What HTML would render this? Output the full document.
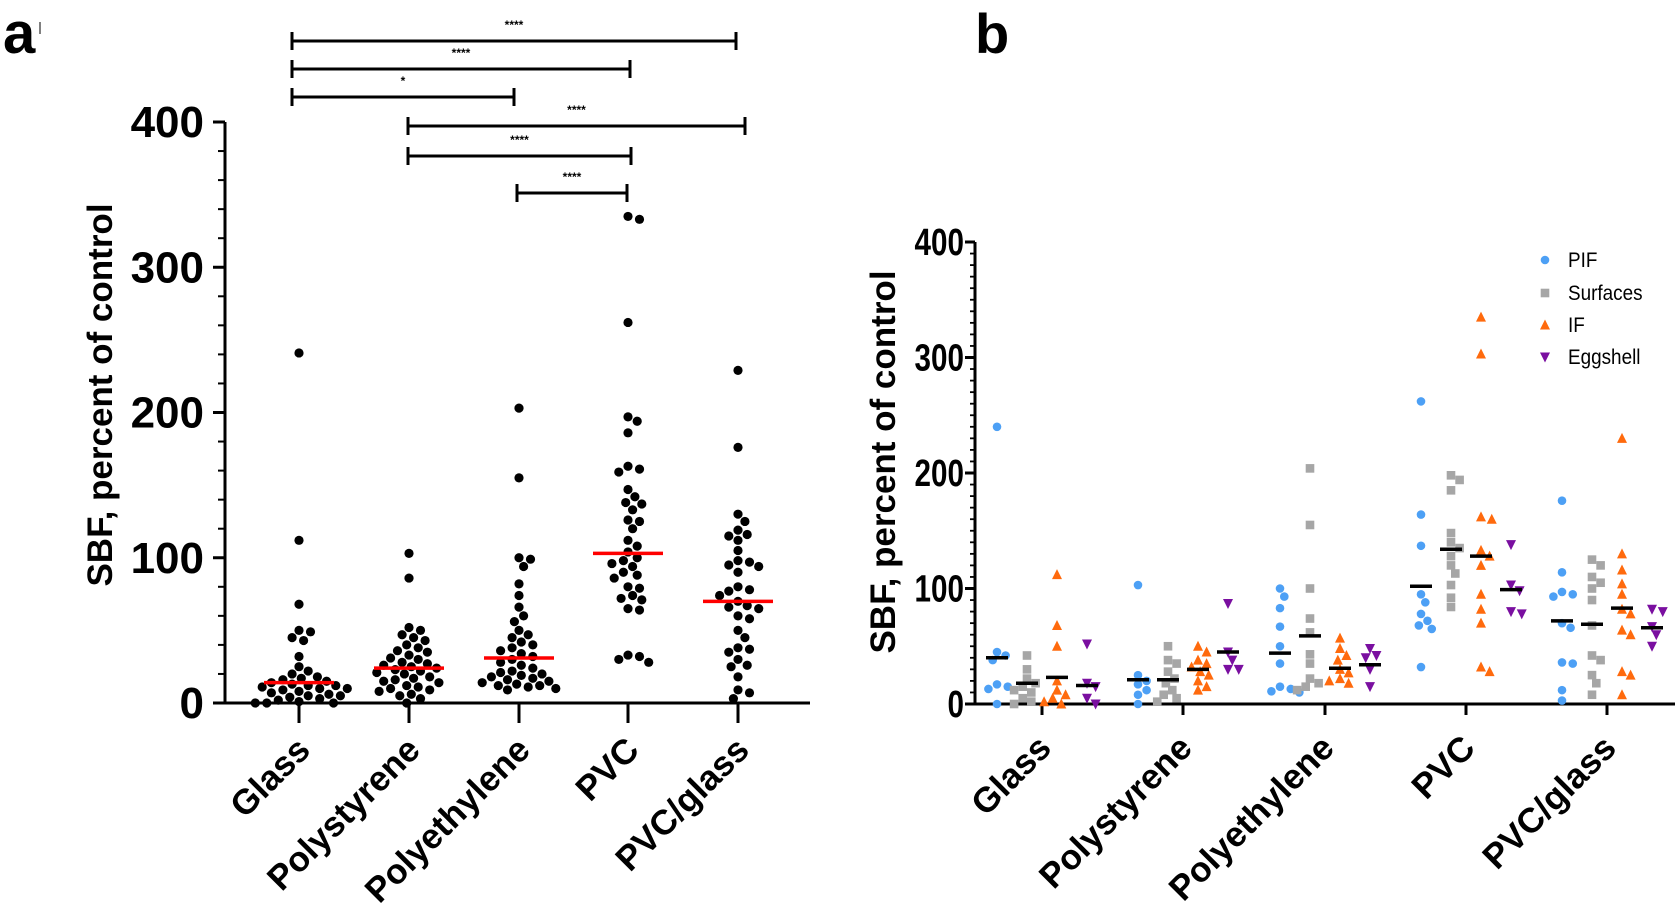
<!DOCTYPE html>
<html><head><meta charset="utf-8">
<style>
html,body{margin:0;padding:0;background:#fff;}
svg{display:block;font-family:"Liberation Sans",Arial,sans-serif;}
</style></head>
<body>
<svg id="fig" width="1675" height="910" viewBox="0 0 1675 910" xmlns="http://www.w3.org/2000/svg">
<text x="3" y="53" font-size="58" font-weight="bold">a</text>
<line x1="40" y1="22" x2="40" y2="34" stroke="#000" stroke-width="1"/>
<text x="975" y="53" font-size="56" font-weight="bold">b</text>
<g id="pa"></g>
<g id="pb"></g>
</svg>
<script>
// ---------- Data ----------
const categories = ["Glass","Polystyrene","Polyethylene","PVC","PVC/glass"];
const yTicks = [0,100,200,300,400];
const pooledGlass = [241,112,68,50,49,45,43,32,25,22,20,18,17,16,15,14,13,12,12,11,10,10,9,8,7,6,5,5,4,3,2,1,0,0,0];
const pooledPolystyrene = [103,86,52,50,47,45,43,40,38,36,35,33,31,30,28,27,26,25,24,23,22,21,20,18,17,16,15,14,12,11,10,9,8,6,5,3,0];
const pooledPolyethylene = [203,155,100,99,94,82,74,66,60,56,50,47,45,42,40,38,36,34,32,30,28,26,24,22,21,20,19,18,17,16,15,14,13,12,12,11,10,9];
const pooledPVC = [335,333,262,197,194,186,163,161,159,147,142,138,137,133,126,125,120,112,108,104,100,98,96,94,90,88,86,80,79,74,72,71,65,64,33,32,30,28];
const pooledPVCglass = [229,176,130,125,119,116,115,112,105,98,97,95,94,90,80,78,77,74,70,67,66,65,60,58,50,45,38,37,35,30,26,25,18,9,7,3];
const pooledMedians = [14,24,31,103,70];
const brackets = [[0,4,"****"],[0,3,"****"],[0,2,"*"],[1,4,"****"],[1,3,"****"],[2,3,"****"]];

const seriesNames = ["PIF","Surfaces","IF","Eggshell"];
const pifValues = [[240,45,42,38,17,15,13,0],[103,25,20,17,12,8,0],[100,93,83,67,50,35,15,13,11,10],[262,164,137,95,88,78,72,68,65,32],[176,114,97,95,93,70,66,36,35,12,3]];
const surfacesValues = [[42,30,22,18,15,12,10,5,2,0],[50,38,35,28,22,18,12,8,5,2],[204,155,100,74,62,43,35,22,18,15,12],[198,194,185,148,140,135,128,120,113,103,92,84],[125,120,110,105,100,90,68,42,38,25,18,8]];
const ifValues = [[112,68,50,20,12,8,5,2,0],[50,45,38,35,32,28,25,20,15,12],[57,48,42,38,30,27,22,20,18],[335,303,162,160,133,128,120,95,82,70,32,28],[230,130,116,104,95,82,78,64,60,28,25,8]];
const eggshellValues = [[52,18,15,5,0],[87,45,38,30,30],[48,42,40,30,15],[138,103,98,80,78],[82,80,67,60,50]];
const pifMedians = [40,21,44,102,72];
const surfacesMedians = [18,21,59,134,69];
const ifMedians = [23,30,31,128,83];
const eggshellMedians = [16,45,34,99,66];

const NS="http://www.w3.org/2000/svg";
function mk(parent,tag,attrs){const e=document.createElementNS(NS,tag);for(const k in attrs)e.setAttribute(k,attrs[k]);parent.appendChild(e);return e;}

function beeswarm(vals,yf,r){
  const sorted=vals.map((v,i)=>({v,i})).sort((a,b)=>b.v-a.v);
  const placed=[];const out=new Array(vals.length);
  for(const p of sorted){
    const y=yf(p.v);let best=0;
    for(let k=0;k<60;k++){
      const cands=k===0?[0]:[k*r*0.5,-k*r*0.5];
      let ok=null;
      for(const c of cands){
        if(placed.every(q=>Math.hypot(q.x-c,q.y-y)>=2*r*1.05)){ok=c;break;}
      }
      if(ok!==null){best=ok;break;}
    }
    placed.push({x:best,y});out[p.i]=best;
  }
  return out;
}

// ---------- Panel A ----------
(function(){
  const g=document.getElementById('pa');
  const X0=225,Y0=703,Y400=122,XEND=810;
  const y=v=>Y0-(v/400)*(Y0-Y400);
  const xs=[299,409,519,628,738];
  const x=i=>xs[i];
  const ax=mk(g,'line',{x1:X0,y1:Y400,x2:X0,y2:Y0+1.5,stroke:'#000','stroke-width':3});
  
  const bx=mk(g,'line',{x1:X0-1.5,y1:Y0,x2:XEND,y2:Y0,stroke:'#000','stroke-width':3});
  
  for(let v=0;v<=400;v+=20){
    const major=v%100===0;
    const t=mk(g,'line',{x1:X0-(major?12:7),y1:y(v),x2:X0,y2:y(v),stroke:'#000','stroke-width':major?3:2});
    
  }
  yTicks.forEach(v=>{
    const t=mk(g,'text',{x:204,y:y(v)+15,'text-anchor':'end','font-size':44,'font-weight':'bold'});
    t.textContent=v;
    
  });
  const tt=mk(g,'text',{x:0,y:0,transform:`translate(112,395) rotate(-90)`,'text-anchor':'middle','font-size':35,'font-weight':'bold'});
  tt.textContent='SBF, percent of control';
  
  categories.forEach((c,i)=>{
    const tk=mk(g,'line',{x1:x(i),y1:Y0,x2:x(i),y2:Y0+20,stroke:'#000','stroke-width':3});
    
    const t=mk(g,'text',{x:0,y:0,transform:`translate(${x(i)+13},752) rotate(-45)`,'text-anchor':'end','font-size':35,'font-weight':'bold'});
    t.textContent=c;
    
  });
  const groups=[pooledGlass,pooledPolystyrene,pooledPolyethylene,pooledPVC,pooledPVCglass];
  const r=4.6;
  groups.forEach((vals,i)=>{
    const offs=beeswarm(vals,y,r);
    vals.forEach((v,j)=>{
      const d=mk(g,'circle',{cx:x(i)+offs[j],cy:y(v),r:r,fill:'#000'});
      
    });
    const m=mk(g,'line',{x1:x(i)-35,y1:y(pooledMedians[i]),x2:x(i)+35,y2:y(pooledMedians[i]),stroke:'#ff0000','stroke-width':3.5});
    
  });
  const by=[41,69,97,126,156,193];
  const bxs=[[292,736],[292,630],[292,514],[408,745],[408,631],[517,627]];
  brackets.forEach((b,k)=>{
    const [x1,x2]=bxs[k];const yy=by[k];
    const bg=mk(g,'g',{});
    
    mk(bg,'line',{x1:x1,y1:yy,x2:x2,y2:yy,stroke:'#000','stroke-width':3});
    mk(bg,'line',{x1:x1,y1:yy-9,x2:x1,y2:yy+9,stroke:'#000','stroke-width':3});
    mk(bg,'line',{x1:x2,y1:yy-9,x2:x2,y2:yy+9,stroke:'#000','stroke-width':3});
    const t=mk(bg,'text',{x:(x1+x2)/2,y:yy-12,'text-anchor':'middle','font-size':12,'font-weight':'bold'});
    t.textContent=b[2];
  });
})();

// ---------- Panel B ----------
(function(){
  const g=document.getElementById('pb');
  const X0=975,Y0=704,Y400=242,XEND=1675;
  const y=v=>Y0-(v/400)*(Y0-Y400);
  const xs=[1042,1183,1325,1466,1607];
  const x=i=>xs[i];
  const ax=mk(g,'line',{x1:X0,y1:Y400,x2:X0,y2:Y0+1.5,stroke:'#000','stroke-width':3});
  
  const bx=mk(g,'line',{x1:X0-1.5,y1:Y0,x2:XEND,y2:Y0,stroke:'#000','stroke-width':3});
  
  for(let v=0;v<=400;v+=10){
    const major=v%100===0;
    const t=mk(g,'line',{x1:X0-(major?10:5),y1:y(v),x2:X0,y2:y(v),stroke:'#000','stroke-width':major?3:1.8});
    
  }
  yTicks.forEach(v=>{
    const t=mk(g,'text',{x:0,y:0,transform:`translate(964,${y(v)+13}) scale(0.78,1)`,'text-anchor':'end','font-size':38,'font-weight':'bold'});
    t.textContent=v;
    
  });
  const tt=mk(g,'text',{x:0,y:0,transform:`translate(895,462) rotate(-90)`,'text-anchor':'middle','font-size':35,'font-weight':'bold'});
  tt.textContent='SBF, percent of control';
  
  categories.forEach((c,i)=>{
    const tk=mk(g,'line',{x1:x(i),y1:Y0,x2:x(i),y2:Y0+11,stroke:'#000','stroke-width':3});
    
    const t=mk(g,'text',{x:0,y:0,transform:`translate(${x(i)+11},750) rotate(-45)`,'text-anchor':'end','font-size':35,'font-weight':'bold'});
    t.textContent=c;
    
  });
  const colors=['#4da0f5','#a6a6a6','#ff6a0d','#7a0fa0'];
  const seriesVals=[pifValues,surfacesValues,ifValues,eggshellValues];
  const seriesMed=[pifMedians,surfacesMedians,ifMedians,eggshellMedians];
  const offsets=[-45,-15,15,45];
  function marker(parent,s,cx,cy){
    const c=colors[s];let e;
    if(s===0) e=mk(parent,'circle',{cx:cx,cy:cy,r:4.3,fill:c});
    else if(s===1) e=mk(parent,'rect',{x:cx-4.3,y:cy-4.3,width:8.6,height:8.6,fill:c});
    else if(s===2) e=mk(parent,'polygon',{points:`${cx},${cy-5.5} ${cx+5},${cy+4.5} ${cx-5},${cy+4.5}`,fill:c});
    else e=mk(parent,'polygon',{points:`${cx},${cy+5.5} ${cx+5},${cy-4.5} ${cx-5},${cy-4.5}`,fill:c});
    return e;
  }
  for(let s=0;s<4;s++){
    categories.forEach((c,i)=>{
      const vals=seriesVals[s][i];
      const offs=beeswarm(vals,y,4.3);
      const cx0=x(i)+offsets[s];
      vals.forEach((v,j)=>{
        const e=marker(g,s,cx0+offs[j],y(v));
        
        
      });
      const mv=seriesMed[s][i];
      const m=mk(g,'line',{x1:cx0-11,y1:y(mv),x2:cx0+11,y2:y(mv),stroke:'#000','stroke-width':3.5});
      
    });
  }
  const ly=[260,293,325,357];
  seriesNames.forEach((n,s)=>{
    const lg=mk(g,'g',{});
    
    marker(lg,s,1545,ly[s]);
    const t=mk(lg,'text',{x:0,y:0,transform:`translate(1568,${ly[s]+7}) scale(0.9,1)`,'font-size':21});
    t.textContent=n;
  });
})();
</script>
</body></html>
